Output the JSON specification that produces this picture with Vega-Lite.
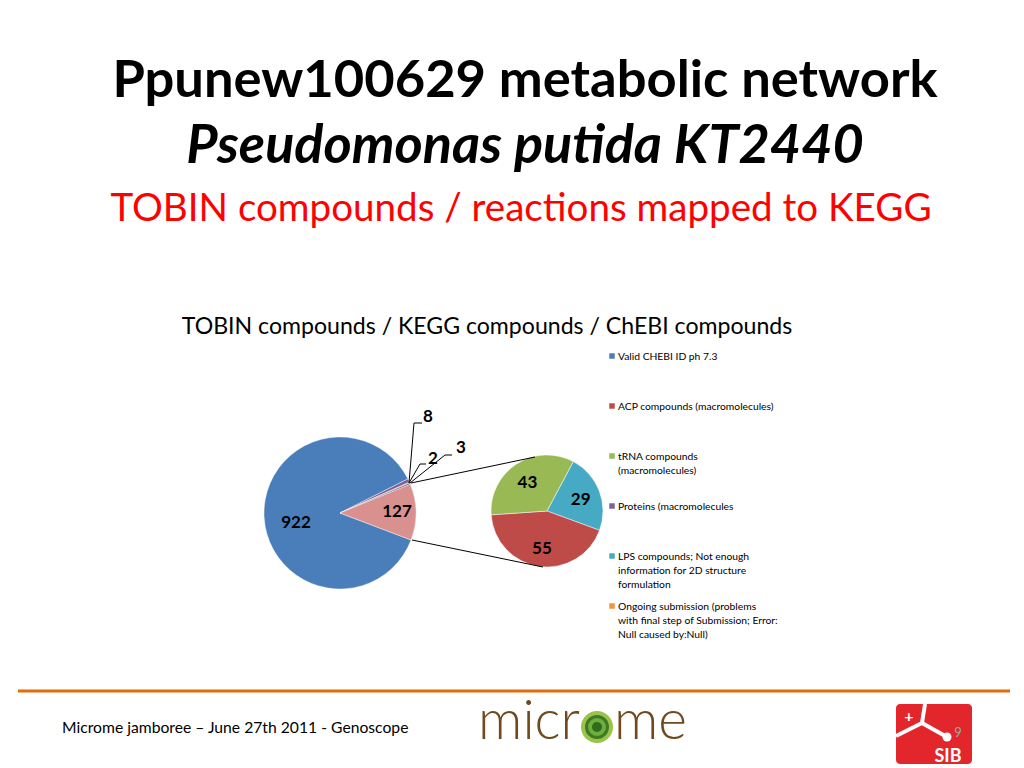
{
  "$schema": "https://vega.github.io/schema/vega-lite/v6.json",
  "width": 1024,
  "height": 768,
  "padding": 0,
  "autosize": {"type": "fit", "contains": "padding"},
  "background": "white",
  "config": {"view": {"stroke": null}, "font": "Lato"},
  "datasets": {
    "main": [
      {"cat": "Valid CHEBI ID ph 7.3", "value": 922, "ord": 1},
      {"cat": "Proteins (macromolecules", "value": 8, "ord": 2},
      {"cat": "Ongoing submission (problems with final step of Submission; Error: Null caused by:Null)", "value": 2, "ord": 3},
      {"cat": "Series 7", "value": 3, "ord": 4},
      {"cat": "Other", "value": 127, "ord": 5}
    ],
    "second": [
      {"cat": "LPS compounds; Not enough information for 2D structure formulation", "value": 29, "ord": 1},
      {"cat": "ACP compounds (macromolecules)", "value": 55, "ord": 2},
      {"cat": "tRNA compounds (macromolecules)", "value": 43, "ord": 3}
    ],
    "legend": [
      {"cat": "Valid CHEBI ID ph 7.3", "label": "Valid CHEBI ID ph 7.3"},
      {"cat": "ACP compounds (macromolecules)", "label": "ACP compounds (macromolecules)"},
      {"cat": "tRNA compounds (macromolecules)", "label": "tRNA compounds\n(macromolecules)"},
      {"cat": "Proteins (macromolecules", "label": "Proteins (macromolecules"},
      {"cat": "LPS compounds; Not enough information for 2D structure formulation", "label": "LPS compounds; Not enough\ninformation for 2D structure\nformulation"},
      {"cat": "Ongoing submission (problems with final step of Submission; Error: Null caused by:Null)", "label": "Ongoing submission (problems\nwith final step of Submission; Error:\nNull caused by:Null)"}
    ]
  },
  "resolve": {"scale": {"theta": "independent", "y": "independent"}},
  "layer": [
    {
      "data": {"values": [{}]},
      "mark": {"type": "text", "text": "Ppunew100629 metabolic network", "fontSize": 52.5, "fontWeight": "bold", "align": "center", "baseline": "alphabetic", "color": "#000000"},
      "encoding": {
        "x": {"datum": 525, "type": "quantitative", "scale": {"domain": [0, 1024], "nice": false, "zero": false}, "axis": null},
        "y": {"datum": 97, "type": "quantitative", "scale": {"domain": [0, 768], "nice": false, "zero": false, "reverse": true}, "axis": null}
      }
    },
    {
      "data": {"values": [{}]},
      "mark": {"type": "text", "text": "Pseudomonas putida KT2440", "fontSize": 54, "fontWeight": "bold", "fontStyle": "italic", "align": "center", "baseline": "alphabetic", "color": "#000000"},
      "encoding": {
        "x": {"datum": 525, "type": "quantitative", "scale": {"domain": [0, 1024], "nice": false, "zero": false}, "axis": null},
        "y": {"datum": 163, "type": "quantitative", "scale": {"domain": [0, 768], "nice": false, "zero": false, "reverse": true}, "axis": null}
      }
    },
    {
      "data": {"values": [{}]},
      "mark": {"type": "text", "text": "TOBIN compounds / reactions mapped to KEGG", "fontSize": 38.6, "align": "center", "baseline": "alphabetic", "color": "#FF0000"},
      "encoding": {
        "x": {"datum": 521, "type": "quantitative", "scale": {"domain": [0, 1024], "nice": false, "zero": false}, "axis": null},
        "y": {"datum": 221, "type": "quantitative", "scale": {"domain": [0, 768], "nice": false, "zero": false, "reverse": true}, "axis": null}
      }
    },
    {
      "data": {"values": [{}]},
      "mark": {"type": "text", "text": "TOBIN compounds / KEGG compounds / ChEBI compounds", "fontSize": 23.1, "align": "center", "baseline": "alphabetic", "color": "#000000"},
      "encoding": {
        "x": {"datum": 487, "type": "quantitative", "scale": {"domain": [0, 1024], "nice": false, "zero": false}, "axis": null},
        "y": {"datum": 334, "type": "quantitative", "scale": {"domain": [0, 768], "nice": false, "zero": false, "reverse": true}, "axis": null}
      }
    },
    {
      "data": {"name": "main"},
      "mark": {"type": "arc", "outerRadius": 76, "stroke": "#FFFFFF", "strokeWidth": 0.4},
      "encoding": {
        "x": {"datum": 340, "type": "quantitative", "scale": {"domain": [0, 1024], "nice": false, "zero": false}, "axis": null},
        "y": {"datum": 513, "type": "quantitative", "scale": {"domain": [0, 768], "nice": false, "zero": false, "reverse": true}, "axis": null},
        "theta": {"field": "value", "type": "quantitative", "stack": true, "scale": {"range": [1.9338, 8.2170]}},
        "order": {"field": "ord", "type": "quantitative"},
        "color": {"field": "cat", "type": "nominal", "legend": null, "scale": {
          "domain": ["Valid CHEBI ID ph 7.3", "ACP compounds (macromolecules)", "tRNA compounds (macromolecules)", "Proteins (macromolecules", "LPS compounds; Not enough information for 2D structure formulation", "Ongoing submission (problems with final step of Submission; Error: Null caused by:Null)", "Series 7", "Other"],
          "range": ["#4A7EBB", "#BE4B48", "#98B954", "#7D60A0", "#46AAC5", "#F69240", "#2C4D75", "#D9918F"]}}
      }
    },
    {
      "data": {"name": "second"},
      "mark": {"type": "arc", "outerRadius": 56, "stroke": "#FFFFFF", "strokeWidth": 0.5},
      "encoding": {
        "x": {"datum": 547, "type": "quantitative", "scale": {"domain": [0, 1024], "nice": false, "zero": false}, "axis": null},
        "y": {"datum": 511, "type": "quantitative", "scale": {"domain": [0, 768], "nice": false, "zero": false, "reverse": true}, "axis": null},
        "theta": {"field": "value", "type": "quantitative", "stack": true, "scale": {"range": [0.4887, 6.7719]}},
        "order": {"field": "ord", "type": "quantitative"},
        "color": {"field": "cat", "type": "nominal", "legend": null}
      }
    },
    {
      "data": {"name": "main"},
      "mark": {"type": "text", "radius": 44, "dy": 8, "fontSize": 17, "fontWeight": "bold", "align": "center", "baseline": "middle", "color": "#000000"},
      "encoding": {
        "x": {"datum": 340, "type": "quantitative", "scale": {"domain": [0, 1024], "nice": false, "zero": false}, "axis": null},
        "y": {"datum": 513, "type": "quantitative", "scale": {"domain": [0, 768], "nice": false, "zero": false, "reverse": true}, "axis": null},
        "theta": {"field": "value", "type": "quantitative", "stack": true, "scale": {"range": [1.9338, 8.2170]}},
        "order": {"field": "ord", "type": "quantitative"},
        "text": {"condition": {"test": "datum.ord == 1", "field": "value", "type": "quantitative"}, "value": ""}
      }
    },
    {
      "data": {"name": "main"},
      "mark": {"type": "text", "radius": 57, "fontSize": 17, "fontWeight": "bold", "align": "center", "baseline": "middle", "color": "#000000"},
      "encoding": {
        "x": {"datum": 340, "type": "quantitative", "scale": {"domain": [0, 1024], "nice": false, "zero": false}, "axis": null},
        "y": {"datum": 513, "type": "quantitative", "scale": {"domain": [0, 768], "nice": false, "zero": false, "reverse": true}, "axis": null},
        "theta": {"field": "value", "type": "quantitative", "stack": true, "scale": {"range": [1.9338, 8.2170]}},
        "order": {"field": "ord", "type": "quantitative"},
        "text": {"condition": {"test": "datum.ord == 5", "field": "value", "type": "quantitative"}, "value": ""}
      }
    },
    {
      "data": {"name": "second"},
      "mark": {"type": "text", "radius": 36, "dy": 2, "fontSize": 17, "fontWeight": "bold", "align": "center", "baseline": "middle", "color": "#000000"},
      "encoding": {
        "x": {"datum": 547, "type": "quantitative", "scale": {"domain": [0, 1024], "nice": false, "zero": false}, "axis": null},
        "y": {"datum": 511, "type": "quantitative", "scale": {"domain": [0, 768], "nice": false, "zero": false, "reverse": true}, "axis": null},
        "theta": {"field": "value", "type": "quantitative", "stack": true, "scale": {"range": [0.4887, 6.7719]}},
        "order": {"field": "ord", "type": "quantitative"},
        "text": {"field": "value", "type": "quantitative"}
      }
    },
    {
      "data": {"name": "main"},
      "transform": [{"filter": "datum.ord == 2"}],
      "mark": {"type": "text", "fontSize": 17, "fontWeight": "bold", "align": "center", "baseline": "middle", "color": "#000000"},
      "encoding": {
        "x": {"datum": 428, "type": "quantitative", "scale": {"domain": [0, 1024], "nice": false, "zero": false}, "axis": null},
        "y": {"datum": 417, "type": "quantitative", "scale": {"domain": [0, 768], "nice": false, "zero": false, "reverse": true}, "axis": null},
        "text": {"field": "value", "type": "quantitative"}
      }
    },
    {
      "data": {"name": "main"},
      "transform": [{"filter": "datum.ord == 3"}],
      "mark": {"type": "text", "fontSize": 17, "fontWeight": "bold", "align": "center", "baseline": "middle", "color": "#000000"},
      "encoding": {
        "x": {"datum": 433, "type": "quantitative", "scale": {"domain": [0, 1024], "nice": false, "zero": false}, "axis": null},
        "y": {"datum": 459, "type": "quantitative", "scale": {"domain": [0, 768], "nice": false, "zero": false, "reverse": true}, "axis": null},
        "text": {"field": "value", "type": "quantitative"}
      }
    },
    {
      "data": {"name": "main"},
      "transform": [{"filter": "datum.ord == 4"}],
      "mark": {"type": "text", "fontSize": 17, "fontWeight": "bold", "align": "center", "baseline": "middle", "color": "#000000"},
      "encoding": {
        "x": {"datum": 461, "type": "quantitative", "scale": {"domain": [0, 1024], "nice": false, "zero": false}, "axis": null},
        "y": {"datum": 448, "type": "quantitative", "scale": {"domain": [0, 768], "nice": false, "zero": false, "reverse": true}, "axis": null},
        "text": {"field": "value", "type": "quantitative"}
      }
    },
    {
      "data": {"values": [{}]},
      "mark": {"type": "rule", "color": "#000000", "strokeWidth": 1},
      "encoding": {
        "x": {"datum": 409, "type": "quantitative", "scale": {"domain": [0, 1024], "nice": false, "zero": false}, "axis": null},
        "y": {"datum": 483, "type": "quantitative", "scale": {"domain": [0, 768], "nice": false, "zero": false, "reverse": true}, "axis": null},
        "x2": {"datum": 414},
        "y2": {"datum": 423}
      }
    },
    {
      "data": {"values": [{}]},
      "mark": {"type": "rule", "color": "#000000", "strokeWidth": 1},
      "encoding": {
        "x": {"datum": 414, "type": "quantitative", "scale": {"domain": [0, 1024], "nice": false, "zero": false}, "axis": null},
        "y": {"datum": 423, "type": "quantitative", "scale": {"domain": [0, 768], "nice": false, "zero": false, "reverse": true}, "axis": null},
        "x2": {"datum": 422},
        "y2": {"datum": 423}
      }
    },
    {
      "data": {"values": [{}]},
      "mark": {"type": "rule", "color": "#000000", "strokeWidth": 1},
      "encoding": {
        "x": {"datum": 409, "type": "quantitative", "scale": {"domain": [0, 1024], "nice": false, "zero": false}, "axis": null},
        "y": {"datum": 483, "type": "quantitative", "scale": {"domain": [0, 768], "nice": false, "zero": false, "reverse": true}, "axis": null},
        "x2": {"datum": 420},
        "y2": {"datum": 464}
      }
    },
    {
      "data": {"values": [{}]},
      "mark": {"type": "rule", "color": "#000000", "strokeWidth": 1},
      "encoding": {
        "x": {"datum": 420, "type": "quantitative", "scale": {"domain": [0, 1024], "nice": false, "zero": false}, "axis": null},
        "y": {"datum": 464, "type": "quantitative", "scale": {"domain": [0, 768], "nice": false, "zero": false, "reverse": true}, "axis": null},
        "x2": {"datum": 426},
        "y2": {"datum": 464}
      }
    },
    {
      "data": {"values": [{}]},
      "mark": {"type": "rule", "color": "#000000", "strokeWidth": 1},
      "encoding": {
        "x": {"datum": 410, "type": "quantitative", "scale": {"domain": [0, 1024], "nice": false, "zero": false}, "axis": null},
        "y": {"datum": 483, "type": "quantitative", "scale": {"domain": [0, 768], "nice": false, "zero": false, "reverse": true}, "axis": null},
        "x2": {"datum": 445},
        "y2": {"datum": 455}
      }
    },
    {
      "data": {"values": [{}]},
      "mark": {"type": "rule", "color": "#000000", "strokeWidth": 1},
      "encoding": {
        "x": {"datum": 445, "type": "quantitative", "scale": {"domain": [0, 1024], "nice": false, "zero": false}, "axis": null},
        "y": {"datum": 455, "type": "quantitative", "scale": {"domain": [0, 768], "nice": false, "zero": false, "reverse": true}, "axis": null},
        "x2": {"datum": 452},
        "y2": {"datum": 455}
      }
    },
    {
      "data": {"values": [{}]},
      "mark": {"type": "rule", "color": "#000000", "strokeWidth": 1},
      "encoding": {
        "x": {"datum": 411, "type": "quantitative", "scale": {"domain": [0, 1024], "nice": false, "zero": false}, "axis": null},
        "y": {"datum": 483, "type": "quantitative", "scale": {"domain": [0, 768], "nice": false, "zero": false, "reverse": true}, "axis": null},
        "x2": {"datum": 535},
        "y2": {"datum": 457}
      }
    },
    {
      "data": {"values": [{}]},
      "mark": {"type": "rule", "color": "#000000", "strokeWidth": 1},
      "encoding": {
        "x": {"datum": 412, "type": "quantitative", "scale": {"domain": [0, 1024], "nice": false, "zero": false}, "axis": null},
        "y": {"datum": 540, "type": "quantitative", "scale": {"domain": [0, 768], "nice": false, "zero": false, "reverse": true}, "axis": null},
        "x2": {"datum": 543},
        "y2": {"datum": 567}
      }
    },
    {
      "data": {"name": "legend"},
      "mark": {"type": "point", "shape": "square", "filled": true, "size": 30, "opacity": 1},
      "encoding": {
        "x": {"datum": 612, "type": "quantitative", "scale": {"domain": [0, 1024], "nice": false, "zero": false}, "axis": null},
        "y": {"field": "cat", "type": "nominal", "sort": null, "scale": {"type": "point", "range": [356, 606], "padding": 0}, "axis": null},
        "color": {"field": "cat", "type": "nominal", "legend": null}
      }
    },
    {
      "data": {"name": "legend"},
      "mark": {"type": "text", "fontSize": 10.3, "align": "left", "baseline": "alphabetic", "dy": 4, "lineBreak": "\n", "lineHeight": 14, "color": "#000000"},
      "encoding": {
        "x": {"datum": 618, "type": "quantitative", "scale": {"domain": [0, 1024], "nice": false, "zero": false}, "axis": null},
        "y": {"field": "cat", "type": "nominal", "sort": null, "scale": {"type": "point", "range": [356, 606], "padding": 0}, "axis": null},
        "text": {"field": "label", "type": "nominal"}
      }
    },
    {
      "data": {"values": [{}]},
      "mark": {"type": "rule", "color": "#E36C0A", "strokeWidth": 3},
      "encoding": {
        "x": {"datum": 18, "type": "quantitative", "scale": {"domain": [0, 1024], "nice": false, "zero": false}, "axis": null},
        "y": {"datum": 691, "type": "quantitative", "scale": {"domain": [0, 768], "nice": false, "zero": false, "reverse": true}, "axis": null},
        "x2": {"datum": 1010},
        "y2": {"datum": 691}
      }
    },
    {
      "data": {"values": [{}]},
      "mark": {"type": "text", "text": "Microme jamboree – June 27th 2011 - Genoscope", "fontSize": 15.7, "align": "left", "baseline": "alphabetic", "color": "#000000"},
      "encoding": {
        "x": {"datum": 62, "type": "quantitative", "scale": {"domain": [0, 1024], "nice": false, "zero": false}, "axis": null},
        "y": {"datum": 733, "type": "quantitative", "scale": {"domain": [0, 768], "nice": false, "zero": false, "reverse": true}, "axis": null}
      }
    },
    {
      "data": {"values": [{}]},
      "mark": {"type": "text", "text": "micr", "fontSize": 55, "fontWeight": 300, "align": "right", "baseline": "alphabetic", "color": "#6E4A1E"},
      "encoding": {
        "x": {"datum": 580, "type": "quantitative", "scale": {"domain": [0, 1024], "nice": false, "zero": false}, "axis": null},
        "y": {"datum": 739, "type": "quantitative", "scale": {"domain": [0, 768], "nice": false, "zero": false, "reverse": true}, "axis": null}
      }
    },
    {
      "data": {"values": [{}]},
      "mark": {"type": "text", "text": "me", "fontSize": 55, "fontWeight": 300, "align": "left", "baseline": "alphabetic", "color": "#6E4A1E"},
      "encoding": {
        "x": {"datum": 614, "type": "quantitative", "scale": {"domain": [0, 1024], "nice": false, "zero": false}, "axis": null},
        "y": {"datum": 739, "type": "quantitative", "scale": {"domain": [0, 768], "nice": false, "zero": false, "reverse": true}, "axis": null}
      }
    },
    {
      "data": {"values": [{}]},
      "mark": {"type": "point", "shape": "circle", "filled": true, "size": 1024, "opacity": 1, "color": "#9CC24A"},
      "encoding": {
        "x": {"datum": 597, "type": "quantitative", "scale": {"domain": [0, 1024], "nice": false, "zero": false}, "axis": null},
        "y": {"datum": 727, "type": "quantitative", "scale": {"domain": [0, 768], "nice": false, "zero": false, "reverse": true}, "axis": null}
      }
    },
    {
      "data": {"values": [{}]},
      "mark": {"type": "point", "shape": "circle", "filled": true, "size": 576, "opacity": 1, "color": "#3E7A24"},
      "encoding": {
        "x": {"datum": 597, "type": "quantitative", "scale": {"domain": [0, 1024], "nice": false, "zero": false}, "axis": null},
        "y": {"datum": 727, "type": "quantitative", "scale": {"domain": [0, 768], "nice": false, "zero": false, "reverse": true}, "axis": null}
      }
    },
    {
      "data": {"values": [{}]},
      "mark": {"type": "point", "shape": "circle", "filled": true, "size": 324, "opacity": 1, "color": "#6DAE3C"},
      "encoding": {
        "x": {"datum": 597, "type": "quantitative", "scale": {"domain": [0, 1024], "nice": false, "zero": false}, "axis": null},
        "y": {"datum": 727, "type": "quantitative", "scale": {"domain": [0, 768], "nice": false, "zero": false, "reverse": true}, "axis": null}
      }
    },
    {
      "data": {"values": [{}]},
      "mark": {"type": "point", "shape": "circle", "filled": true, "size": 100, "opacity": 1, "color": "#2F6A1E"},
      "encoding": {
        "x": {"datum": 597, "type": "quantitative", "scale": {"domain": [0, 1024], "nice": false, "zero": false}, "axis": null},
        "y": {"datum": 727, "type": "quantitative", "scale": {"domain": [0, 768], "nice": false, "zero": false, "reverse": true}, "axis": null}
      }
    },
    {
      "data": {"values": [{}]},
      "mark": {"type": "rect", "color": "#E3262B", "cornerRadius": 4},
      "encoding": {
        "x": {"datum": 896, "type": "quantitative", "scale": {"domain": [0, 1024], "nice": false, "zero": false}, "axis": null},
        "y": {"datum": 704, "type": "quantitative", "scale": {"domain": [0, 768], "nice": false, "zero": false, "reverse": true}, "axis": null},
        "x2": {"datum": 972},
        "y2": {"datum": 764}
      }
    },
    {
      "data": {"values": [{}]},
      "mark": {"type": "rule", "color": "#FFFFFF", "strokeWidth": 4},
      "encoding": {
        "x": {"datum": 922, "type": "quantitative", "scale": {"domain": [0, 1024], "nice": false, "zero": false}, "axis": null},
        "y": {"datum": 723, "type": "quantitative", "scale": {"domain": [0, 768], "nice": false, "zero": false, "reverse": true}, "axis": null},
        "x2": {"datum": 925},
        "y2": {"datum": 704}
      }
    },
    {
      "data": {"values": [{}]},
      "mark": {"type": "rule", "color": "#FFFFFF", "strokeWidth": 4},
      "encoding": {
        "x": {"datum": 922, "type": "quantitative", "scale": {"domain": [0, 1024], "nice": false, "zero": false}, "axis": null},
        "y": {"datum": 723, "type": "quantitative", "scale": {"domain": [0, 768], "nice": false, "zero": false, "reverse": true}, "axis": null},
        "x2": {"datum": 896},
        "y2": {"datum": 736}
      }
    },
    {
      "data": {"values": [{}]},
      "mark": {"type": "rule", "color": "#FFFFFF", "strokeWidth": 4},
      "encoding": {
        "x": {"datum": 922, "type": "quantitative", "scale": {"domain": [0, 1024], "nice": false, "zero": false}, "axis": null},
        "y": {"datum": 723, "type": "quantitative", "scale": {"domain": [0, 768], "nice": false, "zero": false, "reverse": true}, "axis": null},
        "x2": {"datum": 947},
        "y2": {"datum": 737}
      }
    },
    {
      "data": {"values": [{}]},
      "mark": {"type": "point", "shape": "circle", "filled": true, "size": 81, "opacity": 1, "color": "#FFFFFF"},
      "encoding": {
        "x": {"datum": 947, "type": "quantitative", "scale": {"domain": [0, 1024], "nice": false, "zero": false}, "axis": null},
        "y": {"datum": 737, "type": "quantitative", "scale": {"domain": [0, 768], "nice": false, "zero": false, "reverse": true}, "axis": null}
      }
    },
    {
      "data": {"values": [{}]},
      "mark": {"type": "text", "text": "+", "fontSize": 16, "fontWeight": "bold", "align": "center", "baseline": "middle", "color": "#FFFFFF"},
      "encoding": {
        "x": {"datum": 909, "type": "quantitative", "scale": {"domain": [0, 1024], "nice": false, "zero": false}, "axis": null},
        "y": {"datum": 717, "type": "quantitative", "scale": {"domain": [0, 768], "nice": false, "zero": false, "reverse": true}, "axis": null}
      }
    },
    {
      "data": {"values": [{}]},
      "mark": {"type": "text", "text": "SIB", "fontSize": 18, "fontWeight": "bold", "align": "center", "baseline": "alphabetic", "color": "#FFFFFF"},
      "encoding": {
        "x": {"datum": 948, "type": "quantitative", "scale": {"domain": [0, 1024], "nice": false, "zero": false}, "axis": null},
        "y": {"datum": 762, "type": "quantitative", "scale": {"domain": [0, 768], "nice": false, "zero": false, "reverse": true}, "axis": null}
      }
    },
    {
      "data": {"values": [{}]},
      "mark": {"type": "text", "text": "9", "fontSize": 13, "align": "center", "baseline": "alphabetic", "color": "#A6A6A6"},
      "encoding": {
        "x": {"datum": 958, "type": "quantitative", "scale": {"domain": [0, 1024], "nice": false, "zero": false}, "axis": null},
        "y": {"datum": 737, "type": "quantitative", "scale": {"domain": [0, 768], "nice": false, "zero": false, "reverse": true}, "axis": null}
      }
    }
  ]
}
